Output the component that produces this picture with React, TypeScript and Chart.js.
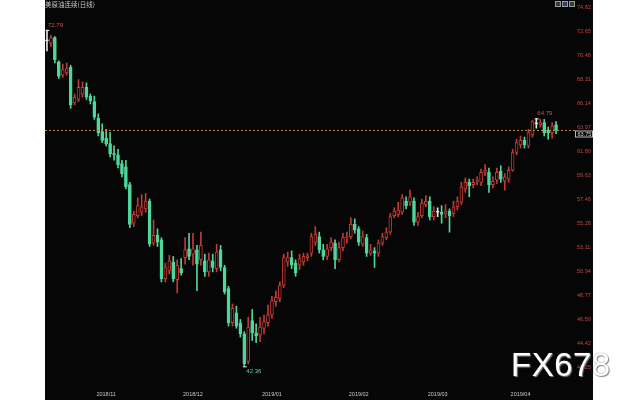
import { useEffect, useRef } from 'react';
import { Chart, registerables } from 'chart.js';

Chart.register(...registerables);

const titleText = '美原油连续(日线)';

const dates: string[] = [
  '2018/10/11','2018/10/12','2018/10/15','2018/10/16','2018/10/17','2018/10/18','2018/10/19','2018/10/22','2018/10/23','2018/10/24','2018/10/25','2018/10/26','2018/10/29','2018/10/30','2018/10/31',
  '2018/11/01','2018/11/02','2018/11/05','2018/11/06','2018/11/07','2018/11/08','2018/11/09','2018/11/12','2018/11/13','2018/11/14','2018/11/15','2018/11/16','2018/11/19','2018/11/20','2018/11/21','2018/11/22','2018/11/23','2018/11/26','2018/11/27','2018/11/28','2018/11/29','2018/11/30',
  '2018/12/03','2018/12/04','2018/12/05','2018/12/06','2018/12/07','2018/12/10','2018/12/11','2018/12/12','2018/12/13','2018/12/14','2018/12/17','2018/12/18','2018/12/19','2018/12/20','2018/12/21','2018/12/24','2018/12/26','2018/12/27','2018/12/28','2018/12/31',
  '2019/01/02','2019/01/03','2019/01/04','2019/01/07','2019/01/08','2019/01/09','2019/01/10','2019/01/11','2019/01/14','2019/01/15','2019/01/16','2019/01/17','2019/01/18','2019/01/21','2019/01/22','2019/01/23','2019/01/24','2019/01/25','2019/01/28','2019/01/29','2019/01/30','2019/01/31',
  '2019/02/01','2019/02/04','2019/02/05','2019/02/06','2019/02/07','2019/02/08','2019/02/11','2019/02/12','2019/02/13','2019/02/14','2019/02/15','2019/02/18','2019/02/19','2019/02/20','2019/02/21','2019/02/22','2019/02/25','2019/02/26','2019/02/27','2019/02/28',
  '2019/03/01','2019/03/04','2019/03/05','2019/03/06','2019/03/07','2019/03/08','2019/03/11','2019/03/12','2019/03/13','2019/03/14','2019/03/15','2019/03/18','2019/03/19','2019/03/20','2019/03/21','2019/03/22','2019/03/25','2019/03/26','2019/03/27','2019/03/28','2019/03/29',
  '2019/04/01','2019/04/02','2019/04/03','2019/04/04','2019/04/05','2019/04/08','2019/04/09','2019/04/10','2019/04/11','2019/04/12',
];

const openPrices: number[] = [
  71.8, 71.6, 72.1, 69.9, 68.7, 68.9, 69.4, 66.2, 66.5, 67.0, 67.6, 66.8, 66.3, 64.8, 63.6,
  63.0, 62.5, 61.6, 61.5, 60.7, 60.4, 58.8, 55.3, 56.0, 56.3, 56.6, 57.3, 53.5, 54.2, 53.8, 50.3, 51.0, 51.8, 50.2, 51.2, 52.2, 53.0,
  52.5, 52.9, 52.0, 51.9, 50.9, 51.9, 51.2, 52.9, 51.3, 49.4, 46.3, 47.2, 46.3, 45.3, 42.8, 46.5, 45.4, 45.2, 45.8, 46.3,
  47.0, 48.2, 48.5, 49.7, 51.8, 52.2, 51.7, 51.5, 51.8, 52.2, 52.6, 53.6, 54.1, 52.9, 52.3, 53.1, 53.5, 52.0, 53.1, 54.0, 54.1, 55.2,
  54.8, 53.4, 54.0, 52.6, 52.8, 52.6, 53.5, 54.0, 54.5, 56.0, 56.1, 56.3, 57.3, 57.2, 57.3, 55.4, 56.0, 57.0, 57.3, 55.9,
  56.3, 56.3, 56.2, 56.4, 56.2, 56.8, 57.2, 58.4, 59.0, 58.8, 59.1, 59.0, 59.9, 59.9, 58.8, 59.2, 60.0, 59.1, 59.3, 60.1, 61.7,
  62.4, 62.8, 62.3, 63.3, 64.3, 64.2, 64.4, 63.7, 63.5, 64.2,
];

const highPrices: number[] = [
  72.79, 72.3, 72.2, 70.0, 69.7, 69.8, 69.6, 67.0, 68.3, 68.1, 68.0, 67.0, 66.8, 65.2, 64.3,
  63.8, 63.5, 62.3, 62.0, 61.0, 61.0, 59.0, 56.4, 57.6, 57.9, 58.0, 57.5, 55.6, 54.8, 54.0, 51.7, 52.4, 52.3, 52.0, 52.1, 54.0, 54.4,
  54.4, 53.3, 54.5, 52.5, 52.6, 52.5, 53.4, 53.3, 51.5, 49.6, 48.0, 47.8, 46.6, 45.5, 46.8, 47.5, 46.2, 46.8, 47.0, 47.9,
  48.7, 49.2, 50.0, 52.5, 52.7, 52.8, 52.0, 52.5, 52.6, 52.6, 54.4, 55.0, 54.5, 53.4, 53.4, 54.0, 53.8, 53.6, 54.4, 54.5, 55.8, 55.7,
  55.0, 54.6, 54.3, 53.4, 53.1, 53.8, 54.4, 54.9, 56.2, 56.7, 57.2, 57.9, 57.7, 58.3, 57.6, 56.3, 57.5, 57.8, 57.7, 56.8,
  56.7, 56.9, 57.0, 56.6, 57.3, 57.7, 59.0, 59.4, 59.3, 59.3, 59.5, 60.2, 60.6, 60.3, 59.5, 60.3, 60.5, 59.8, 60.4, 62.0, 62.9,
  63.2, 63.1, 63.8, 64.6, 64.79, 64.7, 64.7, 64.0, 64.4, 64.5,
];

const lowPrices: number[] = [
  70.9, 71.3, 69.8, 68.4, 68.5, 68.7, 65.7, 66.0, 66.3, 66.7, 66.5, 66.1, 64.7, 63.2, 62.6,
  62.3, 61.3, 61.0, 60.3, 59.5, 58.4, 54.9, 55.0, 55.8, 56.0, 56.3, 53.2, 53.3, 53.2, 50.0, 50.0, 50.7, 50.0, 49.0, 50.6, 51.6, 52.0,
  51.5, 49.2, 51.5, 50.5, 50.5, 50.9, 50.9, 51.0, 48.9, 46.0, 46.0, 45.8, 45.0, 42.36, 42.6, 44.7, 44.5, 44.6, 45.3, 46.0,
  46.7, 47.8, 48.2, 49.5, 51.4, 51.2, 50.5, 51.1, 51.5, 51.9, 52.3, 53.3, 52.6, 52.0, 52.0, 52.8, 51.2, 51.8, 52.8, 53.5, 53.9, 54.4,
  53.3, 53.2, 52.3, 52.4, 51.3, 52.3, 53.3, 53.8, 54.3, 55.8, 55.9, 56.1, 56.6, 56.9, 55.1, 55.1, 55.8, 56.8, 55.6, 55.6,
  55.9, 55.3, 55.8, 54.5, 55.9, 56.5, 57.0, 58.1, 57.7, 58.5, 58.8, 58.7, 59.6, 58.1, 58.5, 58.9, 59.0, 58.3, 59.0, 60.0, 61.5,
  62.1, 62.1, 62.1, 63.1, 63.9, 64.0, 63.2, 62.9, 63.0, 63.4,
];

const closePrices: number[] = [
  71.8, 72.1, 70.1, 68.6, 69.2, 69.3, 66.0, 66.7, 67.6, 67.6, 66.7, 66.4, 64.9, 63.5, 62.8,
  62.5, 61.6, 61.5, 60.6, 59.8, 58.6, 55.2, 56.1, 56.9, 56.8, 57.3, 53.4, 54.2, 53.6, 50.3, 51.3, 51.9, 50.3, 51.5, 50.8, 52.9, 52.3,
  53.0, 51.6, 53.3, 50.9, 52.0, 51.3, 52.7, 51.3, 49.1, 46.3, 47.6, 46.0, 45.3, 42.6, 45.9, 45.4, 45.1, 45.9, 46.4, 47.0,
  48.3, 48.6, 49.7, 52.2, 52.2, 51.5, 50.8, 52.1, 52.3, 52.35, 54.1, 54.3, 52.9, 52.3, 53.0, 53.6, 52.0, 53.1, 54.0, 54.05, 55.2, 54.7,
  53.6, 54.1, 52.6, 52.9, 52.6, 53.5, 54.1, 54.5, 55.9, 56.4, 56.5, 57.6, 56.9, 57.7, 55.4, 55.9, 57.1, 57.3, 55.9, 56.4,
  56.3, 56.1, 56.4, 56.0, 56.8, 57.3, 58.6, 59.0, 58.7, 59.0, 59.2, 59.9, 60.1, 58.8, 59.1, 59.9, 59.3, 59.5, 60.1, 61.7, 62.6,
  62.8, 62.4, 63.5, 64.5, 64.3, 64.4, 63.5, 63.5, 64.1, 63.75,
];

const yTickValues: number[] = [74.82, 72.65, 70.48, 68.31, 66.14, 63.97, 61.80, 59.63, 57.46, 55.28, 53.11, 50.94, 48.77, 46.59, 44.42, 42.25];
const lastPrice = 63.75;
const markedPoints: { idx: number; kind: 'high' | 'low' }[] = [
  { idx: 0, kind: 'high' },
  { idx: 50, kind: 'low' },
  { idx: 124, kind: 'high' },
];

const UP = '#c23a35';
const DOWN = '#4fd69c';
const FLAT = '#e6e6e6';
const BG = '#060606';
const SMALL_FONT = '"Liberation Sans", Arial, sans-serif';

function candleColor(i: number) {
  const o = openPrices[i];
  const c = closePrices[i];
  if (c > o) return UP;
  if (c < o) return DOWN;
  return FLAT;
}

export default function App() {
  const ref = useRef<HTMLCanvasElement | null>(null);

  useEffect(() => {
    if (!ref.current) return;
    const idx = dates.map((_, i) => i);
    const monthStarts: number[] = [];
    for (let i = 1; i < dates.length; i++) {
      if (dates[i].slice(0, 7) !== dates[i - 1].slice(0, 7)) monthStarts.push(i);
    }

    const overlay = {
      id: 'overlay',
      beforeDraw(chart: any) {
        const ctx = chart.ctx;
        ctx.save();
        ctx.fillStyle = BG;
        ctx.fillRect(0, 0, chart.width, chart.height);
        ctx.restore();
      },
      afterDatasetsDraw(chart: any) {
        const ctx = chart.ctx;
        const xs = chart.scales.x;
        const ys = chart.scales.y;
        const area = chart.chartArea;
        ctx.save();
        // title
        ctx.font = '6.5px "Noto Sans CJK SC"';
        ctx.fillStyle = '#c8c8c8';
        ctx.textBaseline = 'middle';
        ctx.textAlign = 'left';
        ctx.fillText(titleText, 0, 4.5);
        // icons
        const iconX = [510, 517, 524];
        iconX.forEach((x, k) => {
          ctx.fillStyle = k === 1 ? '#2c3f7a' : '#3a3a3a';
          ctx.fillRect(x, 1, 6, 6);
          ctx.strokeStyle = '#9a9a9a';
          ctx.lineWidth = 1;
          ctx.strokeRect(x + 0.5, 1.5, 5, 5);
        });
        // last price line
        const py = Math.round(ys.getPixelForValue(lastPrice)) + 0.5;
        ctx.strokeStyle = '#c98a3a';
        ctx.setLineDash([2, 2]);
        ctx.lineWidth = 1;
        ctx.beginPath();
        ctx.moveTo(area.left, py);
        ctx.lineTo(area.right, py);
        ctx.stroke();
        ctx.setLineDash([]);
        // price box
        ctx.strokeStyle = '#bdbdbd';
        ctx.strokeRect(area.right + 0.5, py + 0.5, 17, 6);
        ctx.fillStyle = '#d8d8d8';
        ctx.font = '5.5px ' + SMALL_FONT;
        ctx.textBaseline = 'middle';
        ctx.fillText(lastPrice.toFixed(2), area.right + 2.5, py + 4);
        // marks
        ctx.font = '6px ' + SMALL_FONT;
        markedPoints.forEach((m) => {
          const x = xs.getPixelForValue(m.idx);
          if (m.kind === 'high') {
            const v = highPrices[m.idx];
            const y = ys.getPixelForValue(v);
            ctx.strokeStyle = '#e8e8e8';
            ctx.beginPath();
            ctx.moveTo(x - 1.5, y + 0.5);
            ctx.lineTo(x + 2.5, y + 0.5);
            ctx.stroke();
            ctx.fillStyle = '#e04848';
            ctx.textBaseline = 'bottom';
            ctx.fillText(v.toFixed(2), x + 1, y - 2);
          } else {
            const v = lowPrices[m.idx];
            const y = ys.getPixelForValue(v);
            ctx.strokeStyle = '#e8e8e8';
            ctx.beginPath();
            ctx.moveTo(x - 1.5, y + 0.5);
            ctx.lineTo(x + 2.5, y + 0.5);
            ctx.stroke();
            ctx.fillStyle = '#5fd6a6';
            ctx.textBaseline = 'top';
            ctx.fillText(v.toFixed(2), x + 2, y + 2);
          }
        });
        ctx.restore();
      },
    };

    const chart = new Chart(ref.current, {
      type: 'bar',
      data: {
        datasets: [
          {
            label: 'body',
            order: 0,
            grouped: false,
            data: idx.map((i) => ({ x: i, y: [Math.min(openPrices[i], closePrices[i]), Math.max(openPrices[i], closePrices[i])] })) as any,
            backgroundColor: idx.map((i) => (closePrices[i] > openPrices[i] ? BG : candleColor(i))),
            borderColor: idx.map((i) => candleColor(i)),
            borderWidth: 1,
            borderSkipped: false,
            barThickness: 3,
            minBarLength: 1,
          } as any,
          {
            label: 'wick',
            order: 1,
            grouped: false,
            data: idx.map((i) => ({ x: i, y: [lowPrices[i], highPrices[i]] })) as any,
            backgroundColor: idx.map((i) => candleColor(i)),
            borderWidth: 0,
            barThickness: 1,
          } as any,
        ],
      },
      options: {
        animation: false,
        responsive: false,
        devicePixelRatio: 1,
        layout: { padding: 0 },
        plugins: { legend: { display: false }, tooltip: { enabled: false } },
        scales: {
          x: {
            type: 'linear',
            offset: false,
            min: -0.5,
            max: 133.8,
            grid: { display: false, drawTicks: false },
            border: { display: false },
            afterBuildTicks: (s: any) => {
              s.ticks = monthStarts.map((v) => ({ value: v }));
            },
            afterFit: (s: any) => {
              s.height = 14;
              s.paddingLeft = 0;
              s.paddingRight = 0;
            },
            ticks: {
              autoSkip: false,
              maxRotation: 0,
              color: '#c8c8c8',
              font: { size: 5.5, family: SMALL_FONT },
              padding: 5,
              callback: (v: any) => {
                const d = dates[Math.round(Number(v))];
                return d ? d.slice(0, 7) : '';
              },
            },
          },
          y: {
            position: 'right',
            min: 40.58,
            max: 75.5,
            grid: { display: false, drawTicks: false },
            border: { display: false },
            afterBuildTicks: (s: any) => {
              s.ticks = yTickValues.map((v) => ({ value: v }));
            },
            afterFit: (s: any) => {
              s.width = 18;
              s.paddingTop = 0;
              s.paddingBottom = 0;
            },
            ticks: {
              color: '#c84444',
              font: { size: 5.5, family: SMALL_FONT },
              padding: 2,
              callback: (v: any) => Number(v).toFixed(2),
            },
          },
        },
      } as any,
      plugins: [overlay],
    });
    return () => chart.destroy();
  }, []);

  return (
    <div style={{ position: 'fixed', left: 0, top: 0, width: 640, height: 400, background: '#ffffff', overflow: 'hidden' }}>
      <canvas ref={ref} width={548} height={400} style={{ position: 'absolute', left: 45, top: 0, width: 548, height: 400 }} />
      <div
        style={{
          position: 'absolute',
          left: 511,
          top: 348,
          fontFamily: '"Liberation Sans", Arial, sans-serif',
          fontSize: 33,
          lineHeight: '33px',
          color: '#ffffff',
          letterSpacing: 0.5,
          textShadow: '0 0 1px #666, 1px 1px 1px #888',
          whiteSpace: 'nowrap',
        }}
      >
        FX678
      </div>
    </div>
  );
}
